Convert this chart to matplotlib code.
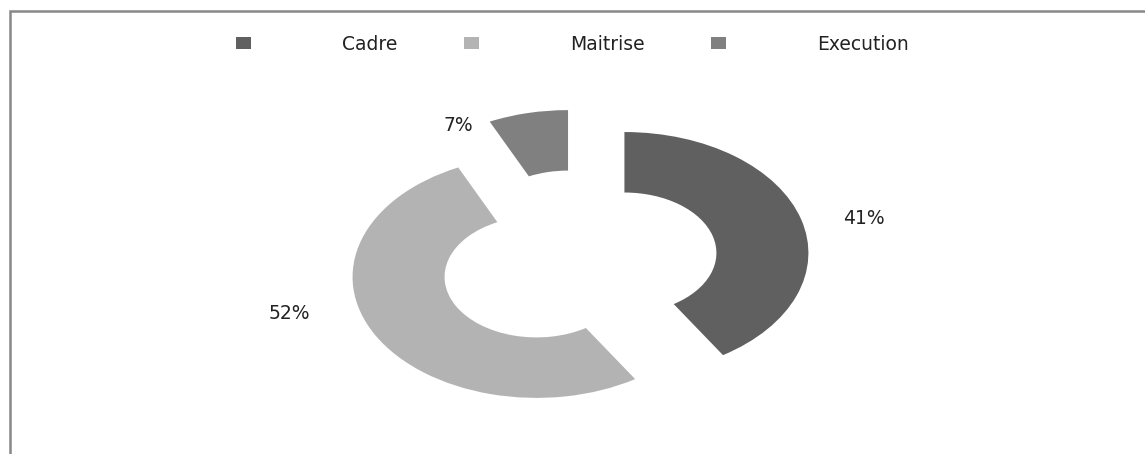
import matplotlib.pyplot as plt
from matplotlib.patches import Rectangle

categories = ['Cadre', 'Maitrise', 'Execution']
values = [41, 52, 7]
colors = ['#606060', '#b3b3b3', '#808080']
pct_labels = ['41%', '52%', '7%']
# where each percentage label sits (data units)
label_pos = [(1.55, 0.36), (-1.57, -0.43), (-0.655, 1.13)]

W, H = 1145, 454
fig = plt.figure(figsize=(W / 100, H / 100), dpi=100)
fig.patch.set_facecolor('white')
ax = fig.add_axes([0, 0, 1, 1])

wedges, _ = ax.pie(values, colors=colors, startangle=90, counterclock=False,
                   explode=[0.26] * len(values), radius=1.0,
                   wedgeprops=dict(width=0.5, linewidth=0))

for txt, (x, y) in zip(pct_labels, label_pos):
    ax.text(x, y, txt, ha='center', va='center', fontsize=13.5, color='#222222')

# stretched look: more pixels per unit horizontally than vertically
ax.set_aspect('auto')
ax.set_xlim(-3.144, 3.079)
ax.set_ylim(-1.589, 2.164)
ax.axis('off')

# frame: only top and left edges are visible
frame = Rectangle((9.5 / W, -0.1), 1.2, 1.1 - 11.5 / H, transform=fig.transFigure,
                  fill=False, edgecolor='#888888', linewidth=1.8)
fig.add_artist(frame)

leg = fig.legend(wedges, categories, loc='center', bbox_to_anchor=(0.5, 1 - 44 / H),
                 ncol=3, frameon=False, fontsize=13.5, handlelength=0.8, handleheight=0.55,
                 handletextpad=4.85, columnspacing=3.55)
for t in leg.get_texts():
    t.set_color('#222222')

fig.savefig('out.png', dpi=100, facecolor='white')
